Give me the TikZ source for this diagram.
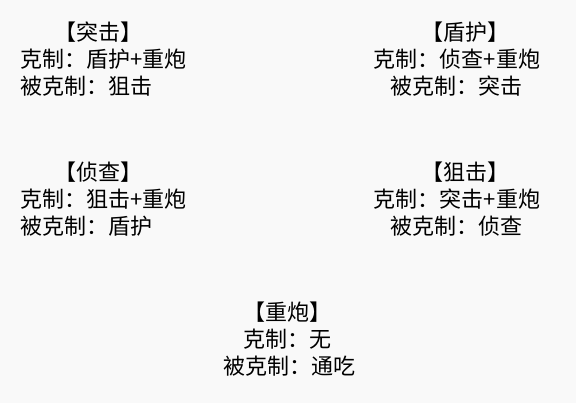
\documentclass[tikz,border=0pt]{standalone}
\usepackage{fontspec}
\setmainfont{Noto Sans CJK SC}
\definecolor{bg}{HTML}{F9F9F9}
\definecolor{ink}{HTML}{000000}
\begin{document}
\begin{tikzpicture}[x=1pt,y=-1pt,
  txt/.style={inner sep=0pt,anchor=base,text=ink,font=\fontsize{22}{25}\selectfont},
  txtl/.style={txt,anchor=base west}]
\fill[bg] (0,0) rectangle (576,403);
\useasboundingbox (0,0) rectangle (576,403);
% 突击
\node[txt]  (h1) at (98,41) {【突击】};
\node[txtl] (a1) at (20,68) {克制：盾护+重炮};
\node[txtl] (b1) at (20,95) {被克制：狙击};
% 盾护
\node[txt] (h2) at (465,41) {【盾护】};
\node[txt] (a2) at (457,68) {克制：侦查+重炮};
\node[txt] (b2) at (456,95) {被克制：突击};
% 侦查
\node[txt]  (h3) at (98,181) {【侦查】};
\node[txtl] (a3) at (20,208) {克制：狙击+重炮};
\node[txtl] (b3) at (20,235) {被克制：盾护};
% 狙击
\node[txt] (h4) at (465,181) {【狙击】};
\node[txt] (a4) at (457,208) {克制：突击+重炮};
\node[txt] (b4) at (456,235) {被克制：侦查};
% 重炮
\node[txt] (h5) at (287,321) {【重炮】};
\node[txt] (a5) at (287,348) {克制：无};
\node[txt] (b5) at (289,375) {被克制：通吃};
\end{tikzpicture}
\end{document}
